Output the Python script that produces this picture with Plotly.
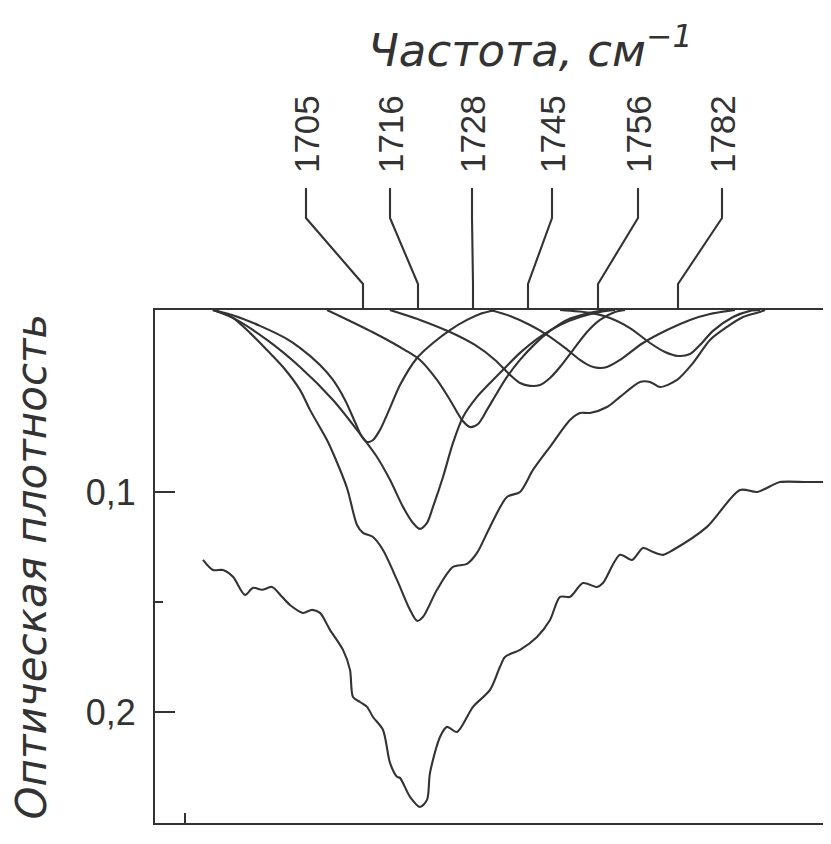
import plotly.graph_objects as go

# ---------------- data (x: relative position along the spectrum, y: optical density) ----------------
# measured spectrum (bottom curve)
exp_x = [9.6, 11.6, 13.6, 15.6, 18.0, 19.6, 21.4, 23.4, 25.4, 27.0, 29.6, 31.4, 33.0, 35.0, 37.6, 39.0,
         39.6, 41.0, 42.4, 43.6, 45.6, 47.0, 48.4, 49.0, 51.0, 53.0, 54.4, 55.0, 57.0, 58.4, 60.4, 63.6,
         67.0, 69.0, 70.0, 73.0, 76.4, 79.0, 81.0, 83.0, 85.6, 88.4, 89.6, 93.0, 95.4, 97.6, 99.6, 101.6,
         103.6, 110.4, 117.0, 120.4, 123.6, 125.0, 130.4, 135.2]
exp_y = [0.1309, 0.1355, 0.1355, 0.1386, 0.1468, 0.1436, 0.1445, 0.1432, 0.1477, 0.1514, 0.1550, 0.1536,
         0.1550, 0.1627, 0.1718, 0.1809, 0.1932, 0.1955, 0.1977, 0.2023, 0.2082, 0.2232, 0.2295, 0.2300,
         0.2386, 0.2432, 0.2400, 0.2277, 0.2114, 0.2068, 0.2091, 0.1977, 0.1900, 0.1795, 0.1750, 0.1718,
         0.1659, 0.1582, 0.1477, 0.1477, 0.1414, 0.1432, 0.1414, 0.1286, 0.1309, 0.1255, 0.1273, 0.1286,
         0.1264, 0.1159, 0.0991, 0.1000, 0.0968, 0.0955, 0.0955, 0.0955]

# sum of the resolved components
sum_x = [11.6, 13.4, 15.6, 19.0, 22.4, 25.6, 29.0, 31.0, 34.4, 35.6, 38.4, 40.4, 41.6, 43.6, 45.6, 48.4,
         51.0, 52.4, 53.6, 56.4, 59.6, 62.4, 64.4, 67.0, 70.4, 73.0, 75.6, 79.0, 83.0, 85.0, 87.0, 90.4,
         93.0, 97.0, 99.0, 101.0, 104.4, 107.6, 111.0, 114.4, 117.6, 121.0, 122.0]
sum_y = [0.0173, 0.0186, 0.0209, 0.0277, 0.0355, 0.0432, 0.0536, 0.0627, 0.0764, 0.0823, 0.0982, 0.1150,
         0.1186, 0.1205, 0.1264, 0.1400, 0.1536, 0.1586, 0.1568, 0.1445, 0.1341, 0.1327, 0.1277, 0.1159,
         0.1023, 0.1000, 0.0900, 0.0795, 0.0673, 0.0641, 0.0641, 0.0614, 0.0568, 0.0500, 0.0500, 0.0523,
         0.0491, 0.0414, 0.0309, 0.0250, 0.0205, 0.0182, 0.0173]

# resolved components
c1705_x = [11.6, 16.0, 21.0, 26.0, 29.0, 33.0, 35.6, 38.0, 40.0, 41.4, 42.4, 43.6, 45.0, 47.0, 49.0, 52.4,
           55.6, 59.0, 62.4, 65.0, 68.0]
c1705_y = [0.0173, 0.0200, 0.0245, 0.0300, 0.0345, 0.0423, 0.0491, 0.0582, 0.0682, 0.0750, 0.0773, 0.0764,
           0.0718, 0.0618, 0.0514, 0.0391, 0.0323, 0.0264, 0.0218, 0.0191, 0.0173]

c1716_x = [11.6, 15.6, 22.4, 29.0, 35.6, 40.4, 44.4, 47.0, 49.6, 51.6, 53.0, 54.4, 55.6, 57.6, 59.6, 61.6,
           64.4, 67.0, 69.6, 73.0, 77.0, 81.0, 85.0, 89.0, 92.0]
c1716_y = [0.0173, 0.0209, 0.0309, 0.0432, 0.0582, 0.0718, 0.0841, 0.0945, 0.1068, 0.1141, 0.1168, 0.1141,
           0.1068, 0.0932, 0.0777, 0.0659, 0.0568, 0.0505, 0.0445, 0.0368, 0.0295, 0.0241, 0.0205, 0.0182,
           0.0173]

c1728_x = [34.4, 39.0, 45.0, 50.0, 53.0, 56.4, 59.0, 61.4, 63.0, 64.6, 66.4, 68.4, 70.4, 73.0, 76.0, 79.0,
           82.4, 87.0, 90.0]
c1728_y = [0.0173, 0.0223, 0.0291, 0.0355, 0.0400, 0.0491, 0.0582, 0.0673, 0.0705, 0.0691, 0.0627, 0.0550,
           0.0477, 0.0400, 0.0327, 0.0268, 0.0218, 0.0186, 0.0173]

c1745_x = [47.0, 53.0, 59.0, 64.0, 68.0, 71.0, 73.0, 75.0, 77.0, 79.0, 81.0, 83.6, 86.4, 89.0, 92.0, 94.0]
c1745_y = [0.0173, 0.0218, 0.0273, 0.0332, 0.0400, 0.0468, 0.0505, 0.0518, 0.0514, 0.0482, 0.0432, 0.0355,
           0.0273, 0.0218, 0.0182, 0.0173]

c1756_x = [67.0, 71.0, 75.0, 78.4, 82.0, 85.0, 87.0, 88.6, 90.4, 93.0, 97.6, 102.4, 107.0, 111.0, 116.0]
c1756_y = [0.0173, 0.0200, 0.0241, 0.0286, 0.0345, 0.0400, 0.0427, 0.0436, 0.0432, 0.0400, 0.0323, 0.0264,
           0.0218, 0.0191, 0.0173]

c1782_x = [81.0, 87.0, 91.0, 95.0, 99.0, 102.0, 104.6, 107.0, 109.0, 111.6, 115.6, 119.0, 121.0]
c1782_y = [0.0173, 0.0186, 0.0209, 0.0255, 0.0323, 0.0364, 0.0382, 0.0373, 0.0332, 0.0268, 0.0205, 0.0177,
           0.0173]

# band labels (cm^-1), band positions and label positions on the x scale
band_labels = ["1705", "1716", "1728", "1745", "1756", "1782"]
band_pos = [41.6, 52.6, 63.6, 74.6, 88.6, 104.6]
label_pos = [30.2, 47.0, 63.4, 79.4, 96.6, 113.4]

y_ticks = [0.1, 0.2]
y_ticktext = ["0,1", "0,2"]
y_minor = [0.15]

INK = "#333333"
LW = 2.1

fig = go.Figure()
series = [(exp_x, exp_y), (sum_x, sum_y), (c1705_x, c1705_y), (c1716_x, c1716_y), (c1728_x, c1728_y),
          (c1745_x, c1745_y), (c1756_x, c1756_y), (c1782_x, c1782_y)]
for xs, ys in series:
    fig.add_trace(go.Scatter(x=xs, y=ys, mode="lines",
                             line=dict(color=INK, width=LW, shape="spline", smoothing=0.8),
                             showlegend=False, hoverinfo="skip"))

# leader lines from labels to bands
Y_TOP, Y_KNEE, Y_LOW = 1.2378, 1.1793, 1.0507
shapes = []
for lx, px in zip(label_pos, band_pos):
    shapes.append(dict(type="path", xref="x", yref="paper",
                       path=f"M {lx},{Y_TOP} L {lx},{Y_KNEE} L {px},{Y_LOW} L {px},1",
                       line=dict(color=INK, width=LW)))

annotations = []
for lx, t in zip(label_pos, band_labels):
    annotations.append(dict(x=lx, y=1.263, xref="x", yref="paper", text=t, textangle=-90,
                            showarrow=False, xanchor="center", yanchor="bottom",
                            font=dict(family="Liberation Sans", size=35, color=INK)))
annotations.append(dict(x=0.555, y=1.512, xref="paper", yref="paper",
                        text="Частота, см<sup>−1</sup>", showarrow=False,
                        xanchor="center", yanchor="middle",
                        font=dict(family="DejaVu Sans", size=45, color=INK, style="italic")))
annotations.append(dict(x=-0.182, y=0.5, xref="paper", yref="paper",
                        text="Оптическая плотность", textangle=-90, showarrow=False,
                        xanchor="center", yanchor="middle",
                        font=dict(family="DejaVu Sans", size=42, color=INK, style="italic")))

fig.update_layout(
    width=823, height=836,
    margin=dict(l=147, r=0, t=302, b=21),
    paper_bgcolor="white", plot_bgcolor="white",
    shapes=shapes, annotations=annotations,
    xaxis=dict(range=[0, 135.2], showline=True, mirror=True, linecolor=INK, linewidth=LW,
               showgrid=False, zeroline=False, ticks="inside", tickvals=[6], ticklen=10,
               tickwidth=LW, tickcolor=INK, showticklabels=False, fixedrange=True),
    yaxis=dict(range=[0.2505, 0.0173], showline=True, linecolor=INK, linewidth=LW,
               showgrid=False, zeroline=False, ticks="inside", tickvals=y_ticks, ticktext=y_ticktext,
               ticklen=20, tickwidth=LW, tickcolor=INK, ticklabelstandoff=10,
               tickfont=dict(family="Liberation Sans", size=36, color=INK),
               minor=dict(tickvals=y_minor, ticks="inside", ticklen=8, tickwidth=LW, tickcolor=INK),
               fixedrange=True),
)

fig.write_html("out.html")
